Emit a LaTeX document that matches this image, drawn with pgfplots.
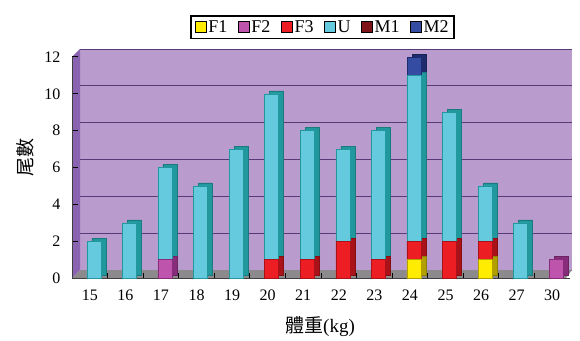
\documentclass[border=0pt]{standalone}
\usepackage{fontspec}
\setmainfont{Liberation Serif}
\newfontfamily\cjk{Noto Sans CJK TC}
\usepackage{pgfplots}
\usepackage{pgfplotstable}
\pgfplotsset{compat=1.18}

\definecolor{wall}{RGB}{185,155,206}
\definecolor{sidewall}{RGB}{138,100,176}
\definecolor{gridc}{RGB}{88,58,118}
\definecolor{floorc}{RGB}{140,138,140}
\definecolor{cF1}{RGB}{255,236,0}   \definecolor{cF1d}{RGB}{178,160,0}
\definecolor{cF2}{RGB}{190,84,172}  \definecolor{cF2d}{RGB}{134,44,122}
\definecolor{cF3}{RGB}{236,30,36}   \definecolor{cF3d}{RGB}{168,18,24}
\definecolor{cU}{RGB}{102,202,222}  \definecolor{cUd}{RGB}{32,152,158}
\definecolor{cM1}{RGB}{124,20,26}   \definecolor{cM1d}{RGB}{84,10,14}
\definecolor{cM2}{RGB}{52,76,162}   \definecolor{cM2d}{RGB}{30,44,110}

% fish counts per weight class (kg), stacked F1, F2, F3, U, M1, M2
\pgfplotstableread{
x  F1 F2 F3 U M1 M2
0  0  0  0  2 0  0
1  0  0  0  3 0  0
2  0  1  0  5 0  0
3  0  0  0  5 0  0
4  0  0  0  7 0  0
5  0  0  1  9 0  0
6  0  0  1  7 0  0
7  0  0  2  5 0  0
8  0  0  1  7 0  0
9  1  0  1  9 0  1
10 0  0  2  7 0  0
11 1  0  1  3 0  0
12 0  0  0  3 0  0
13 0  1  0  0 0  0
}\datatable

\pgfplotsset{
  frame/.style={scale only axis, anchor=south west,
    width=498pt, height=221pt,
    xmin=-0.5, xmax=13.5, ymin=0, ymax=12},
  bars/.style={frame, hide axis, ybar stacked, bar width=14pt},
}

\begin{document}
\begin{tikzpicture}
\useasboundingbox (0pt,0pt) rectangle (580pt,340pt);

% back wall with gridlines
\begin{axis}[frame, at={(80pt,70pt)}, width=492pt,
  axis background/.style={fill=wall},
  axis line style={draw=none},
  ytick={0,2,...,12}, ymajorgrids, grid style={gridc, line width=0.8pt},
  major tick length=0pt, yticklabels={}, xtick=\empty]
\end{axis}

% floor and left wall
\fill[floorc] (72pt,62pt) -- (80pt,70pt) -- (572pt,70pt) -- (566pt,62pt) -- cycle;
\fill[sidewall] (72pt,62pt) -- (72pt,283pt) -- (80pt,291pt) -- (80pt,70pt) -- cycle;
\draw[gridc, line width=0.6pt] (72pt,62pt) -- (72pt,283pt);

% front axis: ticks, labels, legend
\begin{axis}[frame, at={(72pt,62pt)},
  axis x line*=bottom, axis y line*=left,
  axis line style={black!75, line width=0.6pt},
  ytick={0,2,...,12},
  xtick={0,...,13},
  xticklabels={15,16,17,18,19,20,21,22,23,24,25,26,27,30},
  minor x tick num=1,
  major x tick style={draw=none},
  tick align=inside,
  major tick length=6pt, minor tick length=5pt,
  tick style={black, line width=1pt},
  tick label style={font=\fontsize{16}{18}\selectfont},
  /pgf/number format/assume math mode=true,
  yticklabel style={xshift=-8pt},
  xticklabel style={yshift=-8pt},
  xlabel={{\cjk 體重}(kg)},
  xlabel style={at={(axis description cs:0.498,-0.222)}, anchor=center,
    font=\fontsize{19}{21}\selectfont},
  ylabel={\cjk 尾數},
  ylabel style={at={(axis description cs:-0.094,0.545)}, anchor=center,
    font=\fontsize{19}{21}\selectfont},
  legend columns=6,
  legend image code/.code={
    \draw[#1, draw=black, line width=1pt] (0pt,-5.5pt) rectangle (11pt,5.5pt);},
  legend style={at={(axis description cs:0.503,1.081)}, anchor=south,
    draw=black, line width=1.4pt, inner xsep=4pt, inner ysep=2.5pt,
    /tikz/every even column/.append style={column sep=9pt},
    nodes={inner xsep=1.5pt, inner ysep=2pt, font=\fontsize{18}{20}\selectfont}},
]
\addlegendimage{fill=cF1}\addlegendentry{F1}
\addlegendimage{fill=cF2}\addlegendentry{F2}
\addlegendimage{fill=cF3}\addlegendentry{F3}
\addlegendimage{fill=cU}\addlegendentry{U}
\addlegendimage{fill=cM1}\addlegendentry{M1}
\addlegendimage{fill=cM2}\addlegendentry{M2}
\end{axis}

% depth of the bars: shaded copy shifted right and up
\begin{axis}[bars, at={(72pt,65pt)}, bar shift=9pt]
\addplot[fill=cF1d, draw=cF1d!80!black, line width=0.4pt] table[x=x,y=F1]{\datatable};
\addplot[fill=cF2d, draw=cF2d!80!black, line width=0.4pt] table[x=x,y=F2]{\datatable};
\addplot[fill=cF3d, draw=cF3d!80!black, line width=0.4pt] table[x=x,y=F3]{\datatable};
\addplot[fill=cUd,  draw=cUd!80!black,  line width=0.4pt] table[x=x,y=U]{\datatable};
\addplot[fill=cM1d, draw=cM1d!80!black, line width=0.4pt] table[x=x,y=M1]{\datatable};
\addplot[fill=cM2d, draw=cM2d!80!black, line width=0.4pt] table[x=x,y=M2]{\datatable};
\end{axis}

% front faces of the bars
\begin{axis}[bars, at={(72pt,62pt)}, bar shift=4pt]
\addplot[fill=cF1, draw=cF1d, line width=0.4pt] table[x=x,y=F1]{\datatable};
\addplot[fill=cF2, draw=cF2d, line width=0.4pt] table[x=x,y=F2]{\datatable};
\addplot[fill=cF3, draw=cF3d, line width=0.4pt] table[x=x,y=F3]{\datatable};
\addplot[fill=cU,  draw=cUd,  line width=0.4pt] table[x=x,y=U]{\datatable};
\addplot[fill=cM1, draw=cM1d, line width=0.4pt] table[x=x,y=M1]{\datatable};
\addplot[fill=cM2, draw=cM2d, line width=0.4pt] table[x=x,y=M2]{\datatable};
\end{axis}
\end{tikzpicture}
\end{document}
